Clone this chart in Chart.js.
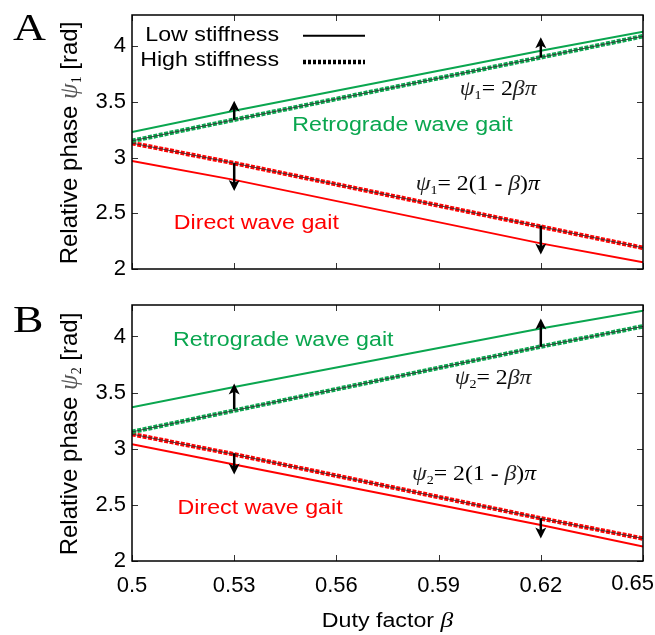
<!DOCTYPE html>
<html><head><meta charset="utf-8">
<script src="https://cdn.jsdelivr.net/npm/chart.js@4.4.0/dist/chart.umd.min.js"></script>
<style>html,body{margin:0;padding:0;background:#fff;width:655px;height:635px;overflow:hidden}
canvas{position:absolute;left:0}</style></head>
<body>
<canvas id="cA" width="655" height="280" style="top:0"></canvas>
<canvas id="cB" width="655" height="355" style="top:280px"></canvas>
<script>
// ---- data ----
const beta = [0.5, 0.53, 0.62, 0.65];
const xTicks = [0.5, 0.53, 0.56, 0.59, 0.62, 0.65];
const yTicks = [2, 2.5, 3, 3.5, 4];
const lowRetroA   = [3.23, 3.42, 3.96, 4.13];
const highRetroA  = [3.15, 3.34, 3.90, 4.09];
const lowDirectA  = [2.97, 2.80, 2.23, 2.06];
const highDirectA = [3.13, 2.95, 2.38, 2.19];
const lowRetroB   = [3.37, 3.55, 4.07, 4.23];
const highRetroB  = [3.15, 3.34, 3.91, 4.09];
const lowDirectB  = [3.04, 2.86, 2.32, 2.13];
const highDirectB = [3.13, 2.95, 2.38, 2.20];
const arrowBeta  = [0.53, 0.53, 0.62, 0.62];
const arrowFromA = [3.34, 2.95, 3.90, 2.39];
const arrowToA   = [3.51, 2.70, 4.08, 2.13];
const arrowFromB = [3.35, 2.96, 3.91, 2.38];
const arrowToB   = [3.58, 2.77, 4.16, 2.20];

const SANS = '"Liberation Sans", Arial, sans-serif';
const SERIF = '"Liberation Serif", "Times New Roman", serif';
const GREEN = '#0aa64f', RED = '#ff0000';
const TICK_FONT = 22;

const pts = arr => beta.map((b, i) => ({x: b, y: arr[i]}));

function runs(ctx, parts, x, y, align, sx) {
  sx = sx || 1;
  ctx.save(); ctx.translate(x, y); ctx.scale(sx, 1);
  ctx.textAlign = 'left'; ctx.textBaseline = 'alphabetic';
  let w = 0;
  for (const p of parts) { ctx.font = p.f; w += ctx.measureText(p.t).width; }
  let cx = align === 'center' ? -w / 2 : align === 'right' ? -w : 0;
  for (const p of parts) {
    ctx.font = p.f; ctx.fillStyle = p.c || '#000';
    ctx.fillText(p.t, cx, p.dy || 0);
    cx += ctx.measureText(p.t).width;
  }
  ctx.restore();
}

function arrow(ctx, x, y0, y1) {
  const dir = Math.sign(y1 - y0), hl = 11, hw = 5.5;
  ctx.save(); ctx.strokeStyle = '#000'; ctx.fillStyle = '#000'; ctx.lineWidth = 2.5;
  ctx.beginPath(); ctx.moveTo(x, y0); ctx.lineTo(x, y1 - dir * hl * 0.6); ctx.stroke();
  ctx.beginPath(); ctx.moveTo(x, y1); ctx.lineTo(x - hw, y1 - dir * hl);
  ctx.lineTo(x, y1 - dir * hl * 0.75); ctx.lineTo(x + hw, y1 - dir * hl); ctx.closePath(); ctx.fill();
  ctx.restore();
}

const sansF = s => `${s}px ${SANS}`;
const serI = s => `italic ${s}px ${SERIF}`;
const ser = s => `${s}px ${SERIF}`;

function formula(sub, long) {
  const p = [{t: 'ψ', f: serI(22), c: '#222'}, {t: sub, f: ser(13), dy: 4}];
  if (long) {
    p.push({t: '= 2(1 - ', f: ser(22)}, {t: 'β', f: serI(22), c: '#222'}, {t: ')', f: ser(22)}, {t: 'π', f: serI(22)});
  } else {
    p.push({t: '= 2', f: ser(22)}, {t: 'βπ', f: serI(22), c: '#222'});
  }
  return p;
}

const decor = {
  id: 'decor',
  afterDatasetsDraw(chart, args, o) {
    const {ctx, chartArea: a, scales: {x, y}} = chart;
    ctx.save();
    // inner ticks
    ctx.lineWidth = 1; ctx.strokeStyle = '#333';
    xTicks.forEach(v => {
      const px = Math.round(x.getPixelForValue(v)) + 0.5;
      ctx.beginPath(); ctx.moveTo(px, a.bottom); ctx.lineTo(px, a.bottom - 6);
      ctx.moveTo(px, a.top); ctx.lineTo(px, a.top + 6); ctx.stroke();
    });
    yTicks.forEach(v => {
      const py = Math.round(y.getPixelForValue(v)) + 0.5;
      ctx.beginPath(); ctx.moveTo(a.left, py); ctx.lineTo(a.left + 6, py);
      ctx.moveTo(a.right, py); ctx.lineTo(a.right - 6, py); ctx.stroke();
    });
    // frame
    ctx.strokeStyle = '#000'; ctx.lineWidth = 1.5;
    ctx.strokeRect(a.left, a.top, a.right - a.left, a.bottom - a.top);
    // arrows
    o.arrowFrom.forEach((f, i) => arrow(ctx, x.getPixelForValue(arrowBeta[i]), y.getPixelForValue(f), y.getPixelForValue(o.arrowTo[i])));
    // text labels
    o.labels.forEach(l => runs(ctx, l.parts, x.getPixelForValue(l.x), y.getPixelForValue(l.y), 'center', l.sx));
    // panel letter
    runs(ctx, [{t: o.letter, f: ser(38)}], 13, a.top + o.letterDy, 'left', 1.2);
    // y title
    ctx.save();
    ctx.translate(77, (a.top + a.bottom) / 2 + 1);
    ctx.rotate(-Math.PI / 2);
    runs(ctx, [{t: 'Relative phase ', f: sansF(24)}, {t: 'ψ', f: serI(25), c: '#555'},
               {t: o.sub, f: ser(14), dy: 4}, {t: ' [rad]', f: sansF(24)}], 0, 0, 'center');
    ctx.restore();
    // legend
    if (o.legend) {
      runs(ctx, [{t: 'Low stiffness', f: sansF(20)}], a.left + 147, a.top + 25.5, 'right', 1.16);
      runs(ctx, [{t: 'High stiffness', f: sansF(20)}], a.left + 147, a.top + 51, 'right', 1.16);
      ctx.strokeStyle = '#000'; ctx.lineWidth = 2;
      ctx.beginPath(); ctx.moveTo(a.left + 171, a.top + 20.7); ctx.lineTo(a.left + 233, a.top + 20.7); ctx.stroke();
      ctx.lineWidth = 4.5; ctx.setLineDash([3, 2]);
      ctx.beginPath(); ctx.moveTo(a.left + 171, a.top + 47); ctx.lineTo(a.left + 233, a.top + 47); ctx.stroke();
      ctx.setLineDash([]);
    }
    // last x tick label, kept inside the canvas
    if (o.xTitle) {
      const v = xTicks[xTicks.length - 1], txt = String(v);
      ctx.font = sansF(TICK_FONT);
      const w = ctx.measureText(txt).width;
      const px = Math.min(x.getPixelForValue(v), chart.width - w / 2 - 1);
      ctx.fillStyle = '#000'; ctx.textAlign = 'center'; ctx.textBaseline = 'alphabetic';
      ctx.fillText(txt, px, o.lastLabelY(a));
      runs(ctx, [{t: 'Duty factor ', f: sansF(20)}, {t: 'β', f: serI(22)}], (a.left + a.right) / 2, a.bottom + 66, 'center', 1.16);
    }
    ctx.restore();
  }
};

function datasets(lowR, highR, lowD, highD) {
  return [
    {data: pts(highR), borderColor: '#333', borderWidth: 0.9},
    {data: pts(highD), borderColor: '#333', borderWidth: 0.9},
    {data: pts(highR), borderColor: GREEN, borderWidth: 4.5, borderDash: [4, 1.5]},
    {data: pts(highD), borderColor: RED, borderWidth: 4.5, borderDash: [4, 1.5]},
    {data: pts(lowR), borderColor: GREEN, borderWidth: 2},
    {data: pts(lowD), borderColor: RED, borderWidth: 2}
  ];
}

function makeChart(id, panel, ds, decorOpts) {
  const isB = panel === 'B';
  const last = xTicks[xTicks.length - 1];
  return new Chart(document.getElementById(id), {
    type: 'line',
    data: {datasets: ds},
    options: {
      responsive: false, animation: false, devicePixelRatio: 1,
      layout: {padding: {top: isB ? 25 : 15, right: 12, left: 0, bottom: 0}},
      plugins: {legend: {display: false}, tooltip: {enabled: false}, decor: decorOpts},
      elements: {point: {radius: 0}, line: {tension: 0, fill: false}},
      scales: {
        x: {
          type: 'linear', min: 0.5, max: 0.65,
          afterBuildTicks: s => { s.ticks = xTicks.map(v => ({value: v})); },
          grid: {display: false, drawTicks: false}, border: {display: false},
          ticks: {display: isB, color: '#000', font: {family: SANS, size: TICK_FONT}, padding: 12,
                  maxRotation: 0, autoSkip: false, callback: v => (v === last ? '' : String(v))},
          afterFit: s => { s.height = isB ? 74 : 11; s.paddingLeft = 0; s.paddingRight = 0; }
        },
        y: {
          type: 'linear', min: 2, max: 4.28,
          afterBuildTicks: s => { s.ticks = yTicks.map(v => ({value: v})); },
          grid: {display: false, drawTicks: false}, border: {display: false},
          ticks: {color: '#000', font: {family: SANS, size: TICK_FONT}, padding: 6, autoSkip: false,
                  callback: v => String(v)},
          afterFit: s => { s.width = 132; s.paddingTop = 0; s.paddingBottom = 0; }
        }
      }
    },
    plugins: [decor]
  });
}

makeChart('cA', 'A', datasets(lowRetroA, highRetroA, lowDirectA, highDirectA), {
  letter: 'A', letterDy: 25, sub: '1', legend: true, xTitle: false,
  arrowFrom: arrowFromA, arrowTo: arrowToA,
  labels: [
    {x: 0.5794, y: 3.237, sx: 1.16, parts: [{t: 'Retrograde wave gait', f: sansF(20), c: GREEN}]},
    {x: 0.5365, y: 2.363, sx: 1.16, parts: [{t: 'Direct wave gait', f: sansF(20), c: RED}]},
    {x: 0.6075, y: 3.56, sx: 1.08, parts: formula('1', false)},
    {x: 0.6015, y: 2.711, sx: 1.08, parts: formula('1', true)}
  ]
});
makeChart('cB', 'B', datasets(lowRetroB, highRetroB, lowDirectB, highDirectB), {
  letter: 'B', letterDy: 27, sub: '2', legend: false, xTitle: true,
  lastLabelY: a => a.bottom + 12 + 16 + 1,
  arrowFrom: arrowFromB, arrowTo: arrowToB,
  labels: [
    {x: 0.5444, y: 3.911, sx: 1.16, parts: [{t: 'Retrograde wave gait', f: sansF(20), c: GREEN}]},
    {x: 0.5376, y: 2.417, sx: 1.16, parts: [{t: 'Direct wave gait', f: sansF(20), c: RED}]},
    {x: 0.6060, y: 3.575, sx: 1.08, parts: formula('2', false)},
    {x: 0.6004, y: 2.723, sx: 1.08, parts: formula('2', true)}
  ]
});
</script>
</body></html>
